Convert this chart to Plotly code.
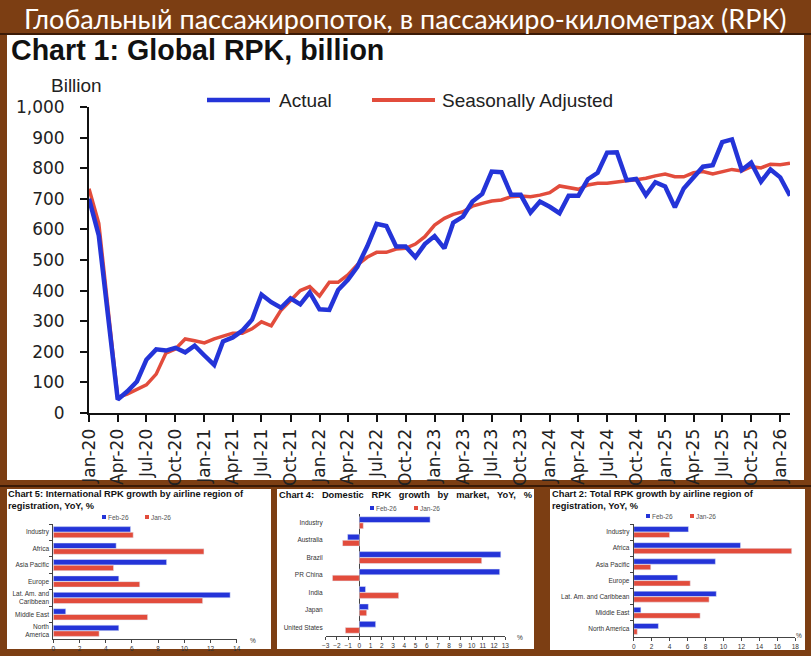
import pandas as pd
import plotly.graph_objects as go

W, H = 811, 656

# --- Chart 1: global RPK, billion (Jan-20 .. Feb-26)
months = pd.date_range("2020-01-01", periods=74, freq="MS")
actual = [700, 580, 320, 44, 70, 103, 174, 208, 204, 213, 198, 220,
          188, 157, 234, 247, 269, 305, 387, 362, 344, 375, 355, 394,
          339, 337, 402, 435, 478, 544, 618, 611, 544, 544, 509, 552,
          578, 538, 622, 642, 691, 716, 789, 787, 713, 713, 655, 691,
          674, 653, 710, 710, 764, 785, 851, 852, 761, 765, 712, 754,
          740, 672, 734, 769, 805, 810, 885, 894, 794, 818, 756, 796,
          770, 710]
seas_adj = [733, 620, 345, 51, 62, 76, 92, 127, 196, 209, 242, 236,
            229, 242, 250, 261, 261, 275, 298, 285, 336, 368, 400, 413,
            382, 427, 427, 451, 484, 509, 525, 525, 536, 538, 552, 576,
            614, 636, 649, 658, 676, 685, 693, 696, 707, 709, 707, 712,
            720, 742, 737, 731, 745, 751, 751, 756, 759, 762, 767, 775,
            781, 772, 772, 785, 789, 781, 789, 796, 791, 805, 801, 813,
            811, 816]

# --- Chart 5: international RPK growth, YoY %
intl_regions = ["Industry", "Africa", "Asia Pacific", "Europe",
                "Lat. Am. and<br>Caribbean", "Middle East", "North<br>America"]
intl_feb = [5.9, 4.8, 8.65, 5.0, 13.5, 0.95, 5.0]
intl_jan = [6.1, 11.5, 4.6, 6.6, 11.4, 7.2, 3.5]

# --- Chart 4: domestic RPK growth, YoY %
dom_markets = ["Industry", "Australia", "Brazil", "PR China", "India", "Japan", "United States"]
dom_feb = [6.3, -1.05, 12.6, 12.5, 0.55, 0.8, 1.45]
dom_jan = [0.35, -1.5, 10.9, -2.4, 3.5, 0.65, -1.25]

# --- Chart 2: total RPK growth, YoY %
tot_regions = ["Industry", "Africa", "Asia Pacific", "Europe",
               "Lat. Am. and Caribbean", "Middle East", "North America"]
tot_feb = [6.1, 11.9, 9.1, 4.9, 9.2, 0.8, 2.75]
tot_jan = [4.0, 17.6, 1.9, 6.3, 8.4, 7.4, 0.4]

BLUE = "#2434d8"
RED = "#e24c3c"
BROWN = "#7c3e13"
SMALL = dict(family="Liberation Sans", size=6.5, color="#333")


def px(p):
    return p / W


def py(p):
    return 1 - p / H


fig = go.Figure()

# red first so the blue line sits on top, as in the source
fig.add_trace(go.Scatter(x=months, y=seas_adj, mode="lines", name="Seasonally Adjusted",
                         line=dict(color=RED, width=3.5), xaxis="x", yaxis="y"))
fig.add_trace(go.Scatter(x=months, y=actual, mode="lines", name="Actual",
                         line=dict(color=BLUE, width=4.5), xaxis="x", yaxis="y"))

for cats, feb, jan, n in [(intl_regions, intl_feb, intl_jan, "2"),
                          (dom_markets, dom_feb, dom_jan, "3"),
                          (tot_regions, tot_feb, tot_jan, "4")]:
    fig.add_trace(go.Bar(y=cats, x=feb, orientation="h", name="Feb-26", marker_color=BLUE,
                         xaxis="x" + n, yaxis="y" + n))
    fig.add_trace(go.Bar(y=cats, x=jan, orientation="h", name="Jan-26", marker_color=RED,
                         xaxis="x" + n, yaxis="y" + n))

small_x = dict(showgrid=False, showline=True, linecolor="#444", linewidth=1,
               ticks="outside", ticklen=3, tickcolor="#444", tickfont=SMALL,
               zeroline=False, automargin=False)
small_y = dict(type="category", autorange="reversed", showgrid=False, tickfont=SMALL,
               ticks="outside", ticklen=3, tickcolor="#444", tickson="boundaries",
               ticklabelstandoff=2, automargin=False)

fig.update_layout(
    width=W, height=H, margin=dict(l=0, r=0, t=0, b=0, pad=0, autoexpand=False),
    paper_bgcolor=BROWN, plot_bgcolor="white", showlegend=False,
    barmode="group", bargap=0.3, bargroupgap=0.05,
    xaxis=dict(domain=[px(89), px(790)], anchor="y", type="date", automargin=False,
               range=["2020-01-01", "2026-02-01"], tick0="2020-01-01", dtick="M3",
               tickformat="%b-%y", tickangle=-90, showgrid=False,
               showline=True, linecolor="#111", linewidth=2,
               ticks="outside", ticklen=7, tickwidth=2, tickcolor="#111",
               tickfont=dict(family="DejaVu Sans", size=17, color="#222")),
    yaxis=dict(domain=[py(413), py(107)], anchor="x", range=[0, 1000], dtick=100,
               tickformat=",", showgrid=False, zeroline=False, automargin=False,
               showline=True, linecolor="#111", linewidth=2,
               ticks="outside", ticklen=7, tickwidth=2, tickcolor="#111",
               ticklabelstandoff=12,
               tickfont=dict(family="DejaVu Sans", size=17, color="#222")),
    xaxis2=dict(domain=[px(53.3), px(236.7)], anchor="y2", range=[0, 14], dtick=2, **small_x),
    yaxis2=dict(domain=[py(639), py(524)], anchor="x2", showline=True, linecolor="#444",
                linewidth=1, **small_y),
    xaxis3=dict(domain=[px(325.7), px(505.3)], anchor="y3", range=[-3, 13], dtick=1,
                **{**small_x, "zeroline": True, "zerolinecolor": "#444", "zerolinewidth": 1}),
    yaxis3=dict(domain=[py(636), py(514)], anchor="x3", showline=False,
                **{**small_y, "ticks": ""}),
    xaxis4=dict(domain=[px(633.7), px(795.3)], anchor="y4", range=[0, 18], dtick=2, **small_x),
    yaxis4=dict(domain=[py(637), py(524)], anchor="x4", showline=True, linecolor="#444",
                linewidth=1, **small_y),
)

# white panels and dark separators
shapes = []
for x0, x1, y0, y1 in [(7, 804, 35, 480), (7, 271, 489, 649),
                       (277, 534, 489, 649), (550, 805, 489, 650)]:
    shapes.append(dict(type="rect", xref="paper", yref="paper", x0=px(x0), x1=px(x1),
                       y0=py(y1), y1=py(y0), fillcolor="white", line_width=0, layer="below"))
for yy in [34, 486]:
    shapes.append(dict(type="line", xref="paper", yref="paper", x0=0, x1=1,
                       y0=py(yy), y1=py(yy), line=dict(color="#3b1a06", width=2)))

# main chart legend lines
for x0, x1, col, lw in [(207, 270, BLUE, 4.5), (372, 435, RED, 4)]:
    shapes.append(dict(type="line", xref="paper", yref="paper", x0=px(x0), x1=px(x1),
                       y0=py(100), y1=py(100), line=dict(color=col, width=lw)))

# small legend squares
for sx, sy, col in [(102, 517, BLUE), (145, 517, RED),
                    (370, 508, BLUE), (414, 508, RED),
                    (646, 516, BLUE), (690, 516, RED)]:
    shapes.append(dict(type="rect", xref="paper", yref="paper", x0=px(sx), x1=px(sx + 4),
                       y0=py(sy + 2), y1=py(sy - 2), fillcolor=col, line_width=0))

fig.update_layout(shapes=shapes)


def note(text, x, y, size, color="#222", family="Liberation Sans", xanchor="left",
         yanchor="middle", align="left"):
    fig.add_annotation(text=text, x=px(x), y=py(y), xref="paper", yref="paper",
                       xanchor=xanchor, yanchor=yanchor, showarrow=False, align=align,
                       font=dict(family=family, size=size, color=color))


note("Глобальный пассажиропоток, в пассажиро-километрах (RPK)", 405, 18, 27,
     color="white", family="Lato", xanchor="center")
note("<b>Chart 1: Global RPK, billion</b>", 9, 50, 28.6, color="#111")
note("Billion", 49, 85, 19)
note("Actual", 277, 100, 19)
note("Seasonally Adjusted", 440, 100, 19)

note("<b>Chart 5: International RPK growth by airline region of<br>registration, YoY, %</b>",
     6, 500, 9.3, color="#111")
sp = "\u00a0\u00a0\u00a0"
note("<b>" + sp.join(["Chart 4:", "Domestic", "RPK", "growth", "by", "market,", "YoY,", "%"]) + "</b>",
     277, 495, 9.3, color="#111")
note("<b>Chart 2: Total RPK growth by airline region of<br>registration, YoY, %</b>",
     550, 500, 9.3, color="#111")

note("Feb-26", 106, 517, 6.5, color="#555")
note("Jan-26", 149, 517, 6.5, color="#555")
note("Feb-26", 374, 508, 6.5, color="#555")
note("Jan-26", 418, 508, 6.5, color="#555")
note("Feb-26", 650, 516, 6.5, color="#555")
note("Jan-26", 694, 516, 6.5, color="#555")

note("%", 253, 640, 6.5, color="#333", xanchor="center")
note("%", 520, 637, 6.5, color="#333", xanchor="center")
note("%", 799, 635, 6.5, color="#333", xanchor="center")

fig.write_html("out.html", config={"displayModeBar": False},
               post_script="document.body.style.margin='0';")
